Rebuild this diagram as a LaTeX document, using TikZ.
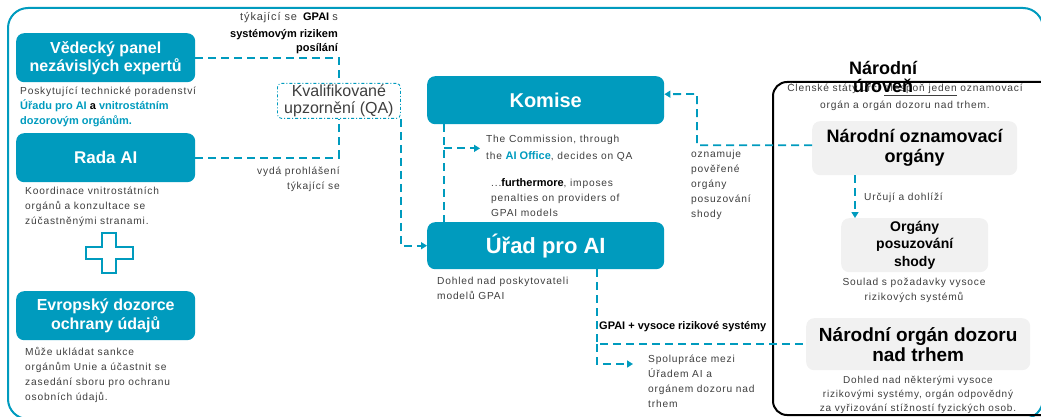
\documentclass[tikz,border=0pt]{standalone}
\usepackage{fontspec}
\setmainfont{Liberation Sans}
\newfontfamily\smf[LetterSpace=8]{Liberation Sans}
\usetikzlibrary{arrows.meta,calc}
\definecolor{tealc}{RGB}{0,155,190}
\definecolor{gboxc}{RGB}{241,241,241}
\definecolor{txtc}{RGB}{62,62,62}
\newcommand\mybf{\normalfont\bfseries\fontsize{11}{15}\selectfont}
\tikzset{
  tbox/.style={fill=tealc, rounded corners=8pt, text=white, align=center, inner sep=0pt, anchor=north west},
  gbox/.style={fill=gboxc, rounded corners=8pt, text=black, align=center, inner sep=0pt, anchor=north west},
  small/.style={font={\smf\fontsize{10.2}{15}\selectfont}, text=txtc, inner sep=0pt},
  dl/.style={draw=tealc, line width=1.8pt, dash pattern=on 8pt off 5pt},
  arr/.style={-{Triangle[length=6pt,width=7pt]}},
}
\begin{document}
\begin{tikzpicture}[x=1pt,y=-1pt]
\useasboundingbox (0,0) rectangle (1041,417);
% frames
\draw[tealc, line width=2pt, rounded corners=20pt] (8,8) rectangle (1043,419);
\draw[black, line width=2pt, rounded corners=14pt] (773,82) rectangle (1060,415);

% left column
\node[tbox, minimum width=179pt, minimum height=49pt, font={\bfseries\fontsize{16}{18}\selectfont}] (ved) at (16,33) {Vědecký panel\\nezávislých expertů};
\node[small, anchor=north west, align=left] (vedt) at (20,87) {Poskytující technické poradenství\\{\mybf\color{tealc}Úřadu pro AI \color{black}a \color{tealc}vnitrostátním}\\{\mybf\color{tealc}dozorovým orgánům.}};
\node[tbox, minimum width=179pt, minimum height=49pt, font={\bfseries\fontsize{17}{20}\selectfont}] (rada) at (16,133) {Rada AI};
\node[small, anchor=north west, align=left] (radat) at (25,187) {Koordinace vnitrostátních\\orgánů a konzultace se\\zúčastněnými stranami.};
\draw[tealc, line width=1.2pt, fill=white] (102,233) -- (116,233) -- (116,247) -- (133,247) -- (133,259) -- (116,259) -- (116,273) -- (102,273) -- (102,259) -- (86,259) -- (86,247) -- (102,247) -- cycle;
\node[tbox, minimum width=179pt, minimum height=49pt, font={\bfseries\fontsize{16}{19}\selectfont}] (edps) at (16,291) {Evropský dozorce\\ochrany údajů};
\node[small, anchor=north west, align=left] (edpst) at (25,347) {Může ukládat sankce\\orgánům Unie a účastnit se\\zasedání sboru pro ochranu\\osobních údajů.};

% middle labels
\node[anchor=north east, align=right, inner sep=0pt, font={\bfseries\fontsize{11}{13.5}\selectfont}] (tyk) at (338,12) {{\smf\mdseries\color{txtc}týkající se}\ \ GPAI\ {\smf\mdseries\color{txtc}s}\\[4pt]systémovým rizikem\\posílání};
\node[draw=tealc, dash pattern=on 3pt off 2pt on 1pt off 2pt, line width=0.8pt, rounded corners=4pt, minimum width=123pt, minimum height=35pt, anchor=north west, align=center, text=txtc, font={\fontsize{16}{17}\selectfont}, inner sep=0pt] (qa) at (277,83) {Kvalifikované\\upzornění (QA)};
\node[small, anchor=north east, align=right] (vyda) at (340,167) {vydá prohlášení\\týkající se};

\node[tbox, minimum width=237pt, minimum height=48pt, font={\bfseries\fontsize{20}{22}\selectfont}] (kom) at (427,76) {Komise};
\node[tbox, minimum width=237pt, minimum height=47pt, font={\bfseries\fontsize{22}{24}\selectfont}] (urad) at (427,222) {Úřad pro AI};
\node[small, anchor=north west, align=left] (comt) at (486,135) {The Commission, through\\[2pt]the {\mybf\color{tealc}AI Office}, decides on QA};
\node[small, anchor=north west, align=left] (furt) at (491,178) {...{\mybf\color{black}furthermore}, imposes\\penalties on providers of\\GPAI models};
\node[small, anchor=north west, align=left] (dohl) at (437,277) {Dohled nad poskytovateli\\modelů GPAI};
\node[small, anchor=north west, align=left] (ozt) at (691,150) {oznamuje\\pověřené\\orgány\\posuzování\\shody};
\node[anchor=west, inner sep=0pt, font=\mybf] (gpl) at (599,327) {GPAI + vysoce rizikové systémy};
\node[small, anchor=north west, align=left] (spol) at (648,355) {Spolupráce mezi\\Úřadem AI a\\orgánem dozoru nad\\trhem};

% right side
\node[small, align=center] (cl) at (905,97) {Členské státy určí \underline{alespoň jeden} oznamovací\\[2pt]orgán a orgán dozoru nad trhem.};
\node[font={\bfseries\fontsize{18}{18}\selectfont}, align=center, inner sep=0pt] (nt) at (883,77) {Národní\\úroveň};
\node[gbox, minimum width=205pt, minimum height=54pt, font={\bfseries\fontsize{18}{20}\selectfont}] (ozn) at (812,121) {Národní oznamovací\\orgány};
\node[small, anchor=west] (urc) at (864,198) {Určují a dohlíží};
\node[gbox, minimum width=147pt, minimum height=54pt, font={\bfseries\fontsize{14}{17.5}\selectfont}] (posuz) at (841,218) {Orgány\\posuzování\\shody};
\node[small, align=center] (soul) at (914,290) {Soulad s požadavky vysoce\\rizikových systémů};
\node[gbox, minimum width=224pt, minimum height=52pt, font={\bfseries\fontsize{19}{20}\selectfont}] (doz) at (806,318) {Národní orgán dozoru\\nad trhem};
\node[small, align=center, font={\smf\fontsize{10}{14}\selectfont}] (dozt) at (918,395) {Dohled nad některými vysoce\\rizikovými systémy, orgán odpovědný\\za vyřizování stížností fyzických osob.};

% connectors
\draw[dl] (ved.east) -| (qa.north);
\draw[dl] (rada.east) -| (qa.south);
\draw[dl, arr] (qa.south east) |- (urad.west);
\coordinate (kb) at ($(kom.south west)+(17,0)$);
\draw[dl] (kb) -- (kb |- urad.north);
\draw[dl, arr] (kb |- comt.west) -- ($(comt.west)+(-6,0)$);
\coordinate (ub) at ($(urad.south west)+(170,0)$);
\coordinate (sa) at (633,364);
\draw[dl] (ub) -- (ub |- doz.west) -- (doz.west);
\draw[dl, arr] (ub |- doz.west) |- (sa);
\coordinate (oc) at (697,94);
\draw[dl, arr] ([yshift=3pt]ozn.west) -| (oc) -- ([yshift=6pt]kom.east);
\coordinate (op) at (855,178);
\draw[dl, arr] (ozn.south -| op) -- (posuz.north -| op);
\end{tikzpicture}
\end{document}
